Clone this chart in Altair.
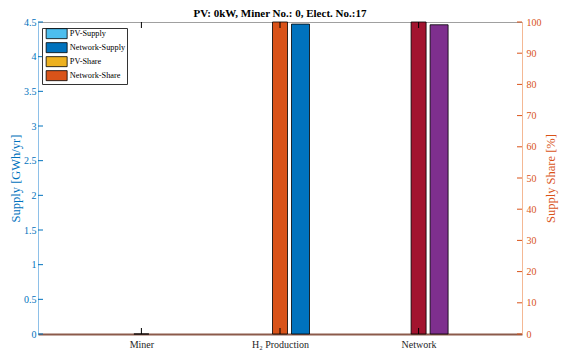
import json
import altair as alt
import pandas as pd

# ---------------- data ----------------
categories = ["Miner", "H\u2082 Production", "Network"]
pv_supply = [0.0, 0.0, 0.0]          # GWh/yr
network_supply = [0.0, 4.47, 4.46]   # GWh/yr
pv_share = [0.0, 0.0, 0.0]           # %
network_share = [0.0, 100.0, 100.0]  # %

title_text = "PV: 0kW, Miner No.: 0, Elect. No.:17"
supply_ticks = [0, 0.5, 1, 1.5, 2, 2.5, 3, 3.5, 4, 4.5]
share_ticks = [0, 10, 20, 30, 40, 50, 60, 70, 80, 90, 100]
series_names = ["PV-Supply", "Network-Supply", "PV-Share", "Network-Share"]

# ---------------- styles ----------------
legend_colors = ["#4DBEEE", "#0072BD", "#EDB120", "#D95319"]
fill_by_series = {
    "PV-Supply": ["#4DBEEE", "#4DBEEE", "#4DBEEE"],
    "Network-Supply": ["#0072BD", "#0072BD", "#7E2F8E"],
    "PV-Share": ["#EDB120", "#EDB120", "#EDB120"],
    "Network-Share": ["#D95319", "#D95319", "#A2142F"],
}
offset_by_series = {"PV-Supply": -0.148, "Network-Supply": 0.148,
                    "PV-Share": -0.148, "Network-Share": 0.0}
BLUE = "#0072BD"
ORANGE = "#D95319"
FONT = "Liberation Serif"
W, H = 484, 312


def rows(series_list):
    out = []
    for name, vals in series_list:
        for i, cat in enumerate(categories):
            out.append({"category": cat, "series": name,
                        "pos": i + 1 + offset_by_series[name],
                        "value": vals[i], "fill": fill_by_series[name][i]})
    return pd.DataFrame(out)


supply_df = rows([("PV-Supply", pv_supply), ("Network-Supply", network_supply)])
share_df = rows([("PV-Share", pv_share), ("Network-Share", network_share)])
legend_df = pd.DataFrame({"series": series_names, "pos": [1] * 4, "value": [0] * 4})
cat_df = pd.DataFrame({"pos": list(range(1, len(categories) + 1))})


def xs():
    return alt.Scale(domain=[0.29, 3.71], nice=False, zero=False)


def yl():
    return alt.Scale(domain=[0, 4.5], nice=False, zero=True)


def yr():
    return alt.Scale(domain=[0, 100], nice=False, zero=True)


label_expr = json.dumps(categories) + "[round(datum.value) - 1]"


def x_axis():
    return alt.Axis(values=list(range(1, len(categories) + 1)), labelExpr=label_expr,
                    title=None, grid=False, ticks=False, tickSize=0,
                    domainColor="#8B5A4B", domainWidth=2, labelFont=FONT,
                    labelFontSize=10, labelColor="#262626", labelPadding=5)


def X():
    return alt.X("pos:Q", scale=xs(), axis=x_axis())


edge_supply = alt.condition("datum.value > 0", alt.value("black"), alt.value("transparent"))
edge_share = alt.condition("datum.value > 0 || datum.series == 'Network-Share'",
                           alt.value("black"), alt.value("transparent"))

left_bars = alt.Chart(supply_df).mark_bar(size=18, strokeWidth=0.8).encode(
    x=X(),
    y=alt.Y("value:Q", scale=yl(),
            axis=alt.Axis(orient="left", values=supply_ticks, format=".1~f", grid=False,
                          ticks=False, tickSize=0, domainColor="#8EC0E8", domainWidth=1,
                          labelColor=BLUE, labelFont=FONT, labelFontSize=10, labelPadding=2,
                          title="Supply [GWh/yr]", titleColor=BLUE, titleFont=FONT,
                          titleFontSize=12.5, titleFontWeight="normal", titlePadding=1)),
    fill=alt.Fill("fill:N", scale=None),
    stroke=edge_supply,
)

legend_layer = alt.Chart(legend_df).mark_bar(opacity=0, stroke="black", size=1).encode(
    x=X(),
    y=alt.Y("value:Q", scale=yl(), axis=None),
    color=alt.Color("series:N", sort=series_names,
                    scale=alt.Scale(domain=series_names, range=legend_colors),
                    legend=alt.Legend(title=None, orient="none", legendX=4, legendY=6,
                                      symbolType="M-4.2,-2H4.2V2H-4.2Z", symbolSize=25,
                                      symbolOpacity=1, symbolStrokeColor="black",
                                      symbolStrokeWidth=0.8, symbolOffset=9,
                                      labelFont=FONT, labelFontSize=8.3, labelColor="#000",
                                      labelOffset=9, rowPadding=0, padding=1.5,
                                      strokeColor="#333333", fillColor="white",
                                      cornerRadius=0)),
)

left_ticks = alt.Chart(pd.DataFrame({"t": supply_ticks})).mark_rule(color=BLUE, strokeWidth=1).encode(
    y=alt.Y("t:Q", scale=yl(), axis=None), x=alt.value(0), x2=alt.value(5))

right_bars = alt.Chart(share_df).mark_bar(size=15, strokeWidth=0.8).encode(
    x=X(),
    y=alt.Y("value:Q", scale=yr(),
            axis=alt.Axis(orient="right", values=share_ticks, format="d", grid=False,
                          ticks=False, tickSize=0, domainColor="#F4B894", domainWidth=1,
                          labelColor=ORANGE, labelFont=FONT, labelFontSize=10, labelPadding=4,
                          title="Supply Share [%]", titleColor=ORANGE, titleFont=FONT,
                          titleFontSize=12.5, titleFontWeight="normal", titleAngle=270,
                          titleBaseline="top", titlePadding=3)),
    fill=alt.Fill("fill:N", scale=None),
    stroke=edge_share,
)

right_ticks = alt.Chart(pd.DataFrame({"t": share_ticks})).mark_rule(color=ORANGE, strokeWidth=1).encode(
    y=alt.Y("t:Q", scale=yr(), axis=None), x=alt.value(W), x2=alt.value(W - 5))

xtick_top = alt.Chart(cat_df).mark_rule(color="black", strokeWidth=1).encode(
    x=X(), y=alt.value(0), y2=alt.value(6))
xtick_bottom = alt.Chart(cat_df).mark_rule(color="black", strokeWidth=1).encode(
    x=X(), y=alt.value(H), y2=alt.value(H - 6))

chart = alt.layer(left_bars, legend_layer, left_ticks, right_bars, right_ticks,
                  xtick_top, xtick_bottom).resolve_scale(y="independent").properties(
    width=W, height=H,
    title=alt.TitleParams(title_text, font=FONT, fontSize=11, fontWeight="bold",
                          color="#000000", offset=4, dy=6, anchor="middle"),
    autosize=alt.AutoSizeParams(type="none"),
    padding={"left": 38, "top": 22, "right": 42, "bottom": 22},
    background="white",
).configure_view(stroke="#A0A0A0", strokeWidth=1)

chart.save("out.html", embed_options={"renderer": "svg", "actions": False})
